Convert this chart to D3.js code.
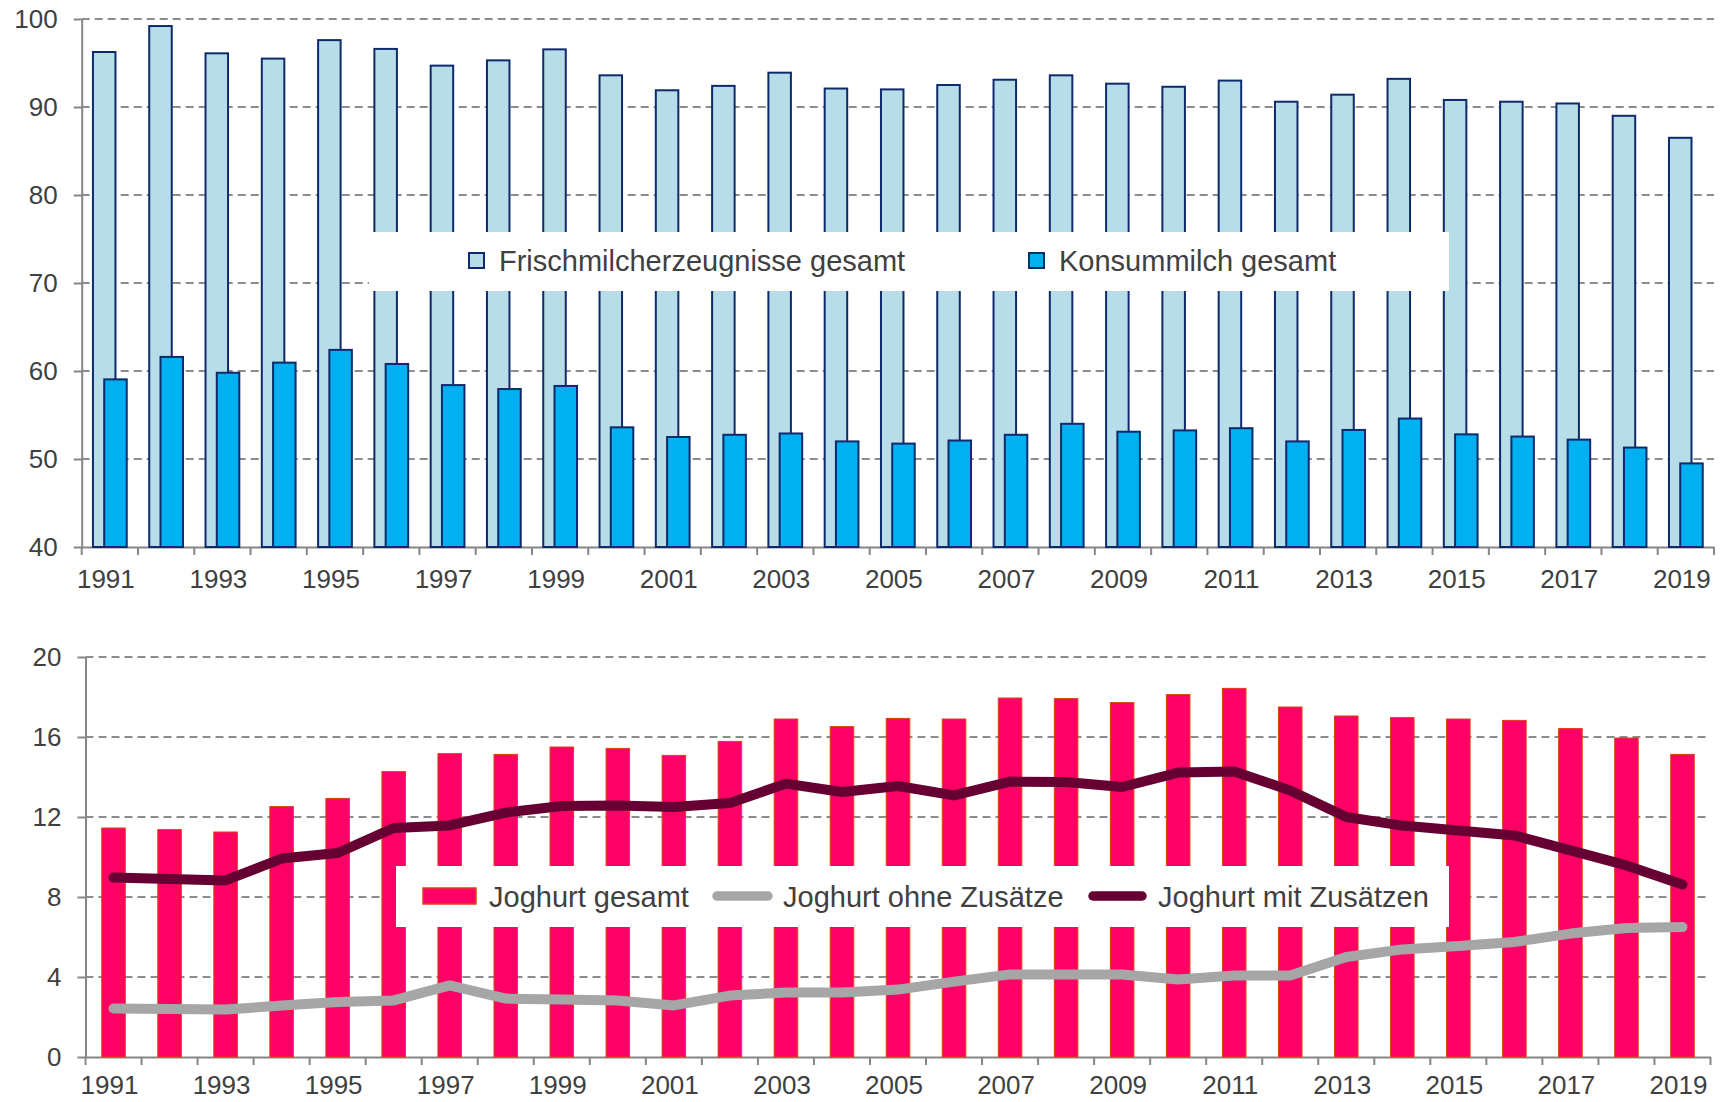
<!DOCTYPE html>
<html lang="de">
<head>
    <meta charset="UTF-8">
    <title>Milch und Joghurt</title>
    <script src="https://d3js.org/d3.v7.min.js"></script>
    <style>
        body {margin: 0; background: #fff;}
        text {
            font-family: "Liberation Sans", Arial, sans-serif;
            fill: #404040;
        }
    </style>
</head>
<body>
<script>
    const width = 1724;
    const height = 1102;

    const years = d3.range(1991, 2020);

    // oberes Diagramm
    const frisch = [96.25, 99.2, 96.1, 95.5, 97.6, 96.6, 94.7, 95.3, 96.55, 93.6,
        91.9, 92.4, 93.9, 92.1, 92.0, 92.5, 93.1, 93.6, 92.65, 92.3,
        93.0, 90.6, 91.4, 93.2, 90.8, 90.6, 90.4, 89.0, 86.5];
    const konsum = [59.05, 61.6, 59.8, 60.95, 62.4, 60.8, 58.4, 57.95, 58.3, 53.6,
        52.5, 52.75, 52.9, 52.0, 51.75, 52.1, 52.75, 54.0, 53.1, 53.25,
        53.5, 52.0, 53.3, 54.6, 52.8, 52.55, 52.2, 51.3, 49.5];
    const topTicks = [40, 50, 60, 70, 80, 90, 100];

    // unteres Diagramm
    const joghurtGesamt = [11.45, 11.37, 11.25, 12.52, 12.93, 14.27, 15.17, 15.13, 15.5, 15.43,
        15.08, 15.78, 16.9, 16.52, 16.93, 16.9, 17.95, 17.92, 17.72, 18.12,
        18.43, 17.5, 17.05, 16.97, 16.9, 16.83, 16.42, 15.95, 15.13];
    const joghurtOhne = [2.42, 2.4, 2.37, 2.57, 2.75, 2.83, 3.58, 2.92, 2.87, 2.83,
        2.58, 3.07, 3.23, 3.23, 3.37, 3.77, 4.13, 4.13, 4.13, 3.87,
        4.08, 4.08, 5.0, 5.38, 5.55, 5.75, 6.17, 6.45, 6.5];
    const joghurtMit = [8.97, 8.9, 8.83, 9.92, 10.2, 11.45, 11.58, 12.22, 12.55, 12.58,
        12.5, 12.7, 13.67, 13.25, 13.55, 13.08, 13.77, 13.75, 13.5, 14.22,
        14.28, 13.33, 12.0, 11.57, 11.33, 11.08, 10.33, 9.58, 8.62];
    const bottomTicks = [0, 4, 8, 12, 16, 20];

    const gridColor = "#8c8c8c";
    const axisColor = "#868686";

    const svg = d3.select("body").append("svg")
            .attr("width", width).attr("height", height);

    function drawFrame(g, x, y, ticks, bottomVal, labelY) {
        const [x0, x1] = x.range();
        const y0 = y(bottomVal);

        // gridlines
        g.append("g").selectAll("line")
                .data(ticks.filter(t => t !== bottomVal))
                .enter().append("line")
                .attr("x1", x0).attr("x2", x1)
                .attr("y1", d => y(d)).attr("y2", d => y(d))
                .style("stroke", gridColor)
                .style("stroke-width", 2)
                .style("stroke-dasharray", "8,5");

        // y axis
        const yAxis = g.append("g")
                .attr("transform", `translate(${x0},0)`)
                .call(d3.axisLeft(y).tickValues(ticks).tickSize(8).tickPadding(16).tickSizeOuter(0));
        yAxis.select(".domain").style("stroke", axisColor).style("stroke-width", 2);
        yAxis.selectAll(".tick line").style("stroke", axisColor).style("stroke-width", 2);
        yAxis.selectAll("text").style("font-size", "26px").attr("fill", "#404040");

        // x axis: tick marks between categories, labels every second year
        const xAxis = g.append("g")
                .attr("transform", `translate(0,${y0})`)
                .call(d3.axisBottom(x).tickValues(years.filter((d, i) => i % 2 === 0)).tickSize(0).tickSizeOuter(0));
        xAxis.select(".domain").style("stroke", axisColor).style("stroke-width", 2);
        xAxis.selectAll("text").style("font-size", "26px")
                .attr("x", -4).attr("y", labelY).attr("dy", 0).attr("fill", "#404040");

        const bounds = years.map(d => x(d)).concat([x1]);
        g.append("g").selectAll("line")
                .data(bounds)
                .enter().append("line")
                .attr("x1", d => d).attr("x2", d => d)
                .attr("y1", y0).attr("y2", y0 + 8)
                .style("stroke", axisColor)
                .style("stroke-width", 2);
    }

    // ---------- oberes Diagramm ----------
    const xTop = d3.scaleBand().domain(years).range([81.7, 1714]).padding(0);
    const yTop = d3.scaleLinear().domain([40, 100]).range([547, 19]);
    const topG = svg.append("g");
    drawFrame(topG, xTop, yTop, topTicks, 40, 41);

    const wTop = xTop.bandwidth() / 2.5;

    topG.append("g").selectAll("rect")
            .data(years)
            .enter().append("rect")
            .attr("x", d => xTop(d) + wTop / 2)
            .attr("width", wTop)
            .attr("y", (d, i) => yTop(frisch[i]))
            .attr("height", (d, i) => yTop(40) - yTop(frisch[i]))
            .style("fill", "#b7dee8")
            .style("stroke", "#0f2a6b")
            .style("stroke-width", 2);

    topG.append("g").selectAll("rect")
            .data(years)
            .enter().append("rect")
            .attr("x", d => xTop(d) + wTop)
            .attr("width", wTop)
            .attr("y", (d, i) => yTop(konsum[i]))
            .attr("height", (d, i) => yTop(40) - yTop(konsum[i]))
            .style("fill", "#00b0f0")
            .style("stroke", "#0f2a6b")
            .style("stroke-width", 2);

    // legend
    const legTop = topG.append("g");
    legTop.append("rect")
            .attr("x", 369).attr("y", 232).attr("width", 1080).attr("height", 59)
            .style("fill", "#fff");
    const topItems = [
        {name: "Frischmilcherzeugnisse gesamt", fill: "#b7dee8", x: 469},
        {name: "Konsummilch gesamt", fill: "#00b0f0", x: 1029}
    ];
    topItems.forEach(it => {
        legTop.append("rect")
                .attr("x", it.x).attr("y", 253).attr("width", 15).attr("height", 15)
                .style("fill", it.fill).style("stroke", "#0f2a6b").style("stroke-width", 2);
        legTop.append("text")
                .attr("x", it.x + 30).attr("y", 271)
                .style("font-size", "29px")
                .text(it.name);
    });

    // ---------- unteres Diagramm ----------
    const xBot = d3.scaleBand().domain(years).range([85.5, 1710.5]).padding(0);
    const yBot = d3.scaleLinear().domain([0, 20]).range([1057, 657]);
    const bottomG = svg.append("g");
    drawFrame(bottomG, xBot, yBot, bottomTicks, 0, 37);

    const wBot = xBot.bandwidth() * 0.42;

    bottomG.append("g").selectAll("rect")
            .data(years)
            .enter().append("rect")
            .attr("x", d => xBot(d) + (xBot.bandwidth() - wBot) / 2)
            .attr("width", wBot)
            .attr("y", (d, i) => yBot(joghurtGesamt[i]))
            .attr("height", (d, i) => yBot(0) - yBot(joghurtGesamt[i]))
            .style("fill", "#ff0066")
            .style("stroke", "#e04010")
            .style("stroke-width", 1);

    // legend box sits over the bars
    const legBot = bottomG.append("g");
    legBot.append("rect")
            .attr("x", 396).attr("y", 866).attr("width", 1053).attr("height", 61)
            .style("fill", "#fff");

    const line = d3.line()
            .x((d, i) => xBot(years[i]) + xBot.bandwidth() / 2)
            .y(d => yBot(d));

    bottomG.append("path")
            .datum(joghurtOhne)
            .attr("d", line)
            .style("fill", "none")
            .style("stroke", "#a6a6a6")
            .style("stroke-width", 10)
            .style("stroke-linejoin", "round")
            .style("stroke-linecap", "round");

    bottomG.append("path")
            .datum(joghurtMit)
            .attr("d", line)
            .style("fill", "none")
            .style("stroke", "#660033")
            .style("stroke-width", 10)
            .style("stroke-linejoin", "round")
            .style("stroke-linecap", "round");

    legBot.raise();
    legBot.append("rect")
            .attr("x", 423).attr("y", 888).attr("width", 53).attr("height", 16)
            .style("fill", "#ff0066").style("stroke", "#e04010").style("stroke-width", 1.5);
    legBot.append("text").attr("x", 489).attr("y", 907).style("font-size", "29px").text("Joghurt gesamt");

    legBot.append("line")
            .attr("x1", 717).attr("x2", 768).attr("y1", 896).attr("y2", 896)
            .style("stroke", "#a6a6a6").style("stroke-width", 9.5).style("stroke-linecap", "round");
    legBot.append("text").attr("x", 783).attr("y", 907).style("font-size", "29px").text("Joghurt ohne Zusätze");

    legBot.append("line")
            .attr("x1", 1093).attr("x2", 1142).attr("y1", 896).attr("y2", 896)
            .style("stroke", "#660033").style("stroke-width", 9.5).style("stroke-linecap", "round");
    legBot.append("text").attr("x", 1158).attr("y", 907).style("font-size", "29px").text("Joghurt mit Zusätzen");

</script>

</body>
</html>
